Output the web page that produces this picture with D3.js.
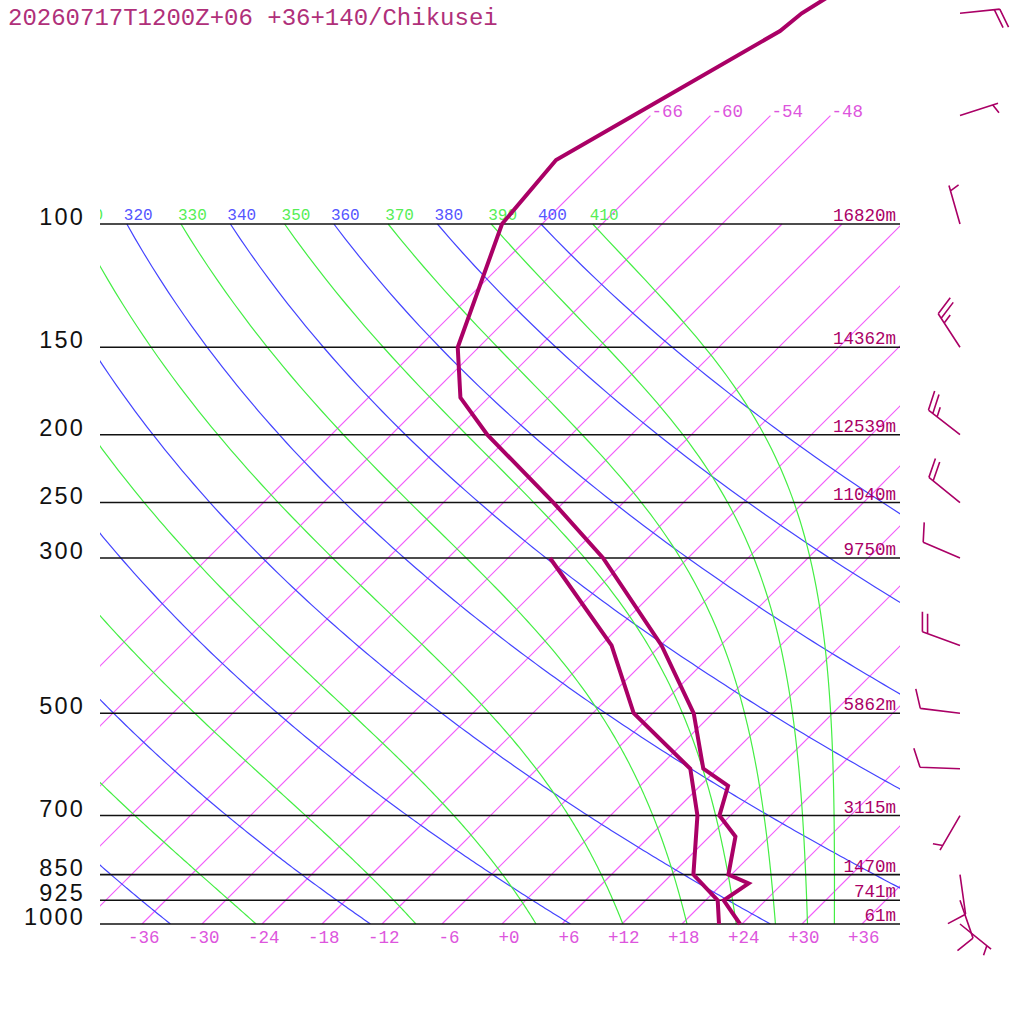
<!DOCTYPE html>
<html><head><meta charset="utf-8">
<script src="https://cdn.jsdelivr.net/npm/d3@7"></script>
<style>body{margin:0;background:#fff} svg{display:block}</style>
</head><body>
<script>
// ---------------- data ----------------
const titleText = "20260717T1200Z+06 +36+140/Chikusei";
const mandatoryLevels = [100,150,200,250,300,500,700,850,925,1000];
const pressureLabels = ["100","150","200","250","300","500","700","850","925","1000"];
const heightLabels = ["16820m","14362m","12539m","11040m","9750m","5862m","3115m","1470m","741m","61m"];
const isotherms = [-66,-60,-54,-48,-42,-36,-30,-24,-18,-12,-6,0,6,12,18,24,30,36];
const upperIsotherms = [-66,-60,-54,-48];
const tempTicks = [-36,-30,-24,-18,-12,-6,0,6,12,18,24,30,36];
const dryAdiabats = [240,260,280,300,320,340,360,380,400];
const moistAdiabats = [250,270,290,310,330,350,370,390,410];
const profilePressure = [1000,925,875,850,750,700,635,600,500,400,300,250,200,177,150,100,81,70,53,50,30];
const profileTemp = [23.8,19.8,20.6,17.7,14.6,10.9,8.8,4.6,-1.9,-11.9,-26.5,-37.0,-50.4,-56.8,-62.1,-70.0,-71.0,-67.7,-61.5,-61.1,-51.6];
const dewPressure = [1000,925,850,700,600,500,400,300];
const dewTemp = [21.7,19.2,14.2,8.7,3.3,-7.9,-16.9,-31.8];
const windPressure = [1000,925,850,700,600,500,400,300,250,200,150,100,70,50];
const windDir = [129,161,172,210,272,277,290,293,309,308,327,344,72,84];
const windSpeed = [5,10,10,5,10,10,20,10,20,25,25,5,5,20];

// ---------------- setup ----------------
const W = 1024, H = 1024;
const C_PROF = "#aa0066", C_ISO = "#f25cfa", C_ISO_T = "#dd55dd";
const C_BLUE = "#4444ff", C_GREEN = "#44ee44";
const svg = d3.select("body").append("svg").attr("width", W).attr("height", H)
  .style("font-family", "'Liberation Mono', 'DejaVu Sans Mono', monospace");

const y = d3.scaleLog().domain([1000, 100]).range([924, 224]);
const xT = d3.scaleLinear().domain([-36, 36]).range([142, 862]);
const sx = (T, p) => xT(T) + (y(1000) - y(p));

const defs = svg.append("defs");
defs.append("clipPath").attr("id", "clip").append("rect")
  .attr("x", 100).attr("y", 0).attr("width", 800).attr("height", 924);

const pgrid = d3.range(1000, 99.9, -5);
const K = 273.15;

function es(Tk){ const c = Tk - K; return 6.112 * Math.exp(17.67 * c / (c + 243.5)); }
function thetaE(Tk, p){
  const e = es(Tk);
  if (e >= 0.9 * p) return Infinity;
  const r = 622 * e / (p - e);
  return Tk * Math.pow(1000 / p, 0.2854 * (1 - 0.00028 * r)) *
         Math.exp((3.376 / Tk - 0.00254) * r * (1 + 0.00081 * r));
}
function moistT(te, p){
  let lo = 140, hi = te * Math.pow(p / 1000, 0.2854) + 0.5;
  for (let i = 0; i < 60; i++){
    const m = (lo + hi) / 2;
    if (thetaE(m, p) > te) hi = m; else lo = m;
  }
  return (lo + hi) / 2 - K;
}

const lineGen = d3.line().x(d => sx(d.t, d.p)).y(d => y(d.p));
const grid = svg.append("g").attr("clip-path", "url(#clip)");

// isotherms
isotherms.forEach(T => {
  const pTop = upperIsotherms.includes(T) ? 70 : 100;
  grid.append("path").attr("d", lineGen([{p:1000,t:T},{p:pTop,t:T}]))
    .style("fill", "none").style("stroke", C_ISO).style("stroke-width", "1.2px");
});
upperIsotherms.forEach(T => {
  svg.append("text").attr("x", sx(T, 70) + 1).attr("y", y(70) + 1.5)
    .attr("font-size", 17.5).attr("fill", C_ISO_T).text(String(T));
});

// dry adiabats
dryAdiabats.forEach(th => {
  const pts = pgrid.map(p => ({p, t: th * Math.pow(p / 1000, 0.286) - K}));
  grid.append("path").attr("d", lineGen(pts)).style("fill", "none")
    .style("stroke", C_BLUE).style("stroke-width", "1.2px");
  const lx = sx(pts[pts.length-1].t, 100) - 3;
  if (lx > 60) grid.append("text").attr("x", lx).attr("y", 220)
    .attr("font-size", 16).attr("fill", "#5555ff").text(th);
});
// moist adiabats
moistAdiabats.forEach(te => {
  const pts = pgrid.map(p => ({p, t: moistT(te, p)}));
  grid.append("path").attr("d", lineGen(pts)).style("fill", "none")
    .style("stroke", C_GREEN).style("stroke-width", "1.2px");
  const lx = sx(pts[pts.length-1].t, 100) - 3;
  if (lx > 60) grid.append("text").attr("x", lx).attr("y", 220)
    .attr("font-size", 16).attr("fill", "#55ee55").text(te);
});

// pressure lines + labels
mandatoryLevels.forEach((p, i) => {
  svg.append("line").attr("x1", 100).attr("x2", 900).attr("y1", y(p)).attr("y2", y(p))
    .attr("stroke", "#111").attr("stroke-width", 1.6);
  svg.append("text").attr("x", 85).attr("y", y(p) + 1).attr("text-anchor", "end")
    .style("font-family", "'Liberation Sans', Arial, sans-serif").attr("font-size", 23.5)
    .attr("letter-spacing", 2.2).attr("fill", "#111").text(pressureLabels[i]);
  svg.append("text").attr("x", 896).attr("y", y(p) - 3).attr("text-anchor", "end")
    .attr("font-size", 17.5).attr("fill", C_PROF).text(heightLabels[i]);
});

// bottom temperature axis
const axis = d3.axisBottom(xT).tickValues(tempTicks).tickSize(0)
  .tickFormat(t => (t >= 0 ? "+" + t : String(t)));
const ag = svg.append("g").attr("transform", "translate(0,924)").call(axis);
ag.select(".domain").remove();
ag.selectAll("text").attr("text-anchor", "end").attr("x", 17).attr("y", 19).attr("dy", 0)
  .attr("font-size", 17.5).attr("fill", C_ISO_T)
  .style("font-family", "'Liberation Mono', 'DejaVu Sans Mono', monospace");

// profiles
const prof = profilePressure.map((p, i) => ({p, t: profileTemp[i]}));
const dew = dewPressure.map((p, i) => ({p, t: dewTemp[i]}));
[dew, prof].forEach(d => {
  svg.append("path").attr("d", lineGen(d)).style("fill", "none").style("stroke", C_PROF)
    .style("stroke-width", "4px").style("stroke-linejoin", "miter");
});

// wind barbs
const bg = svg.append("g");
windPressure.forEach((p, i) => {
  const bx = 960, by = y(p);
  const r = windDir[i] * Math.PI / 180;
  const ux = Math.sin(r), uy = -Math.cos(r);
  const L = 40, tx = bx + L * ux, ty = by + L * uy;
  const a = 70 * Math.PI / 180;
  const vx = ux * Math.cos(a) - uy * Math.sin(a), vy = ux * Math.sin(a) + uy * Math.cos(a);
  let d = `M${bx},${by}L${tx},${ty}`;
  const spd = windSpeed[i];
  const full = Math.floor(spd / 10), half = (spd % 10) >= 5 ? 1 : 0;
  const sp = 5.5;
  let pos = (full === 0 && half) ? sp : 0;
  for (let k = 0; k < full; k++){
    const px = tx - pos * ux, py = ty - pos * uy;
    d += `M${px},${py}l${20 * vx},${20 * vy}`;
    pos += sp;
  }
  if (half){
    const px = tx - pos * ux, py = ty - pos * uy;
    d += `M${px},${py}l${10 * vx},${10 * vy}`;
  }
  bg.append("path").attr("d", d).style("fill", "none").style("stroke", C_PROF)
    .style("stroke-width", "1.6px");
});

// title
svg.append("text").attr("x", 8).attr("y", 25).attr("font-size", 24)
  .attr("fill", "#b0307a").text(titleText);
</script>
</body></html>
